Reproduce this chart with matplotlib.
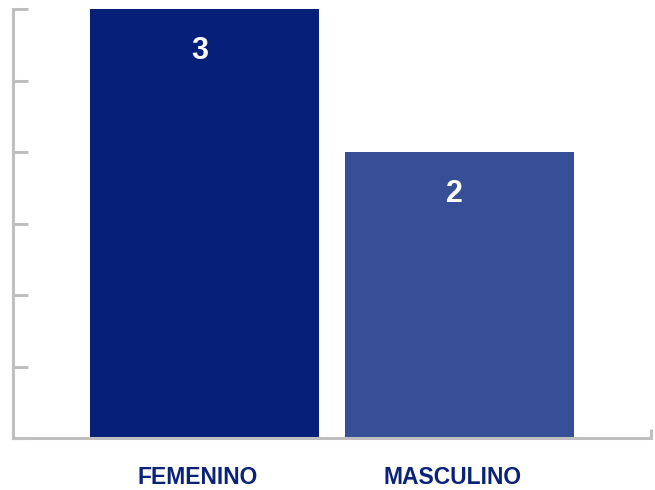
import matplotlib

matplotlib.use("Agg")
import matplotlib.pyplot as plt
import matplotlib.transforms as mtransforms

# data
categories = ["FEMENINO", "MASCULINO"]
values = [3, 2]
colors = ["#061f78", "#364f96"]

AXIS_GRAY = "#bfbfbf"
LABEL_NAVY = "#0a2278"

plt.rcParams["font.family"] = ["Liberation Sans", "DejaVu Sans"]

fig = plt.figure(figsize=(6.55, 4.9), dpi=100)
ax = fig.add_axes([13 / 655, 52 / 490, 638 / 655, 429 / 490])

x = range(len(categories))
bars = ax.bar(x, values, width=0.9, color=colors, zorder=2)

ax.set_xlim(-0.75, 1.75)
ax.set_ylim(0, 3)
ax.set_yticks([0, 0.5, 1, 1.5, 2, 2.5, 3])
ax.set_yticklabels([])
ax.tick_params(axis="y", direction="in", length=11, width=2.2, color=AXIS_GRAY)

ax.set_xticks(list(x))
ax.set_xticklabels(categories, fontsize=16.5, fontweight="bold", color=LABEL_NAVY)
ax.tick_params(axis="x", length=0, pad=20)
# labels sit a little left of the bar centres in the original
shift = mtransforms.ScaledTranslation(-7 / 100, 0, fig.dpi_scale_trans)
for lbl in ax.get_xticklabels():
    lbl.set_transform(lbl.get_transform() + shift)

for side in ("top", "right"):
    ax.spines[side].set_visible(False)
for side in ("left", "bottom"):
    ax.spines[side].set_color(AXIS_GRAY)
    ax.spines[side].set_linewidth(2.2)

# small end tick on the right of the baseline
ax.plot([1.75, 1.75], [0, 0.065], color=AXIS_GRAY, lw=2.2, clip_on=False,
        solid_capstyle="butt", zorder=3)

for bar, v in zip(bars, values):
    ax.annotate(str(v), (bar.get_x() + bar.get_width() / 2, v),
                xytext=(-3.5, -30.5), textcoords="offset points",
                ha="center", va="center", fontsize=22, fontweight="bold",
                color="white", zorder=4)

fig.savefig("out.png", dpi=100)
